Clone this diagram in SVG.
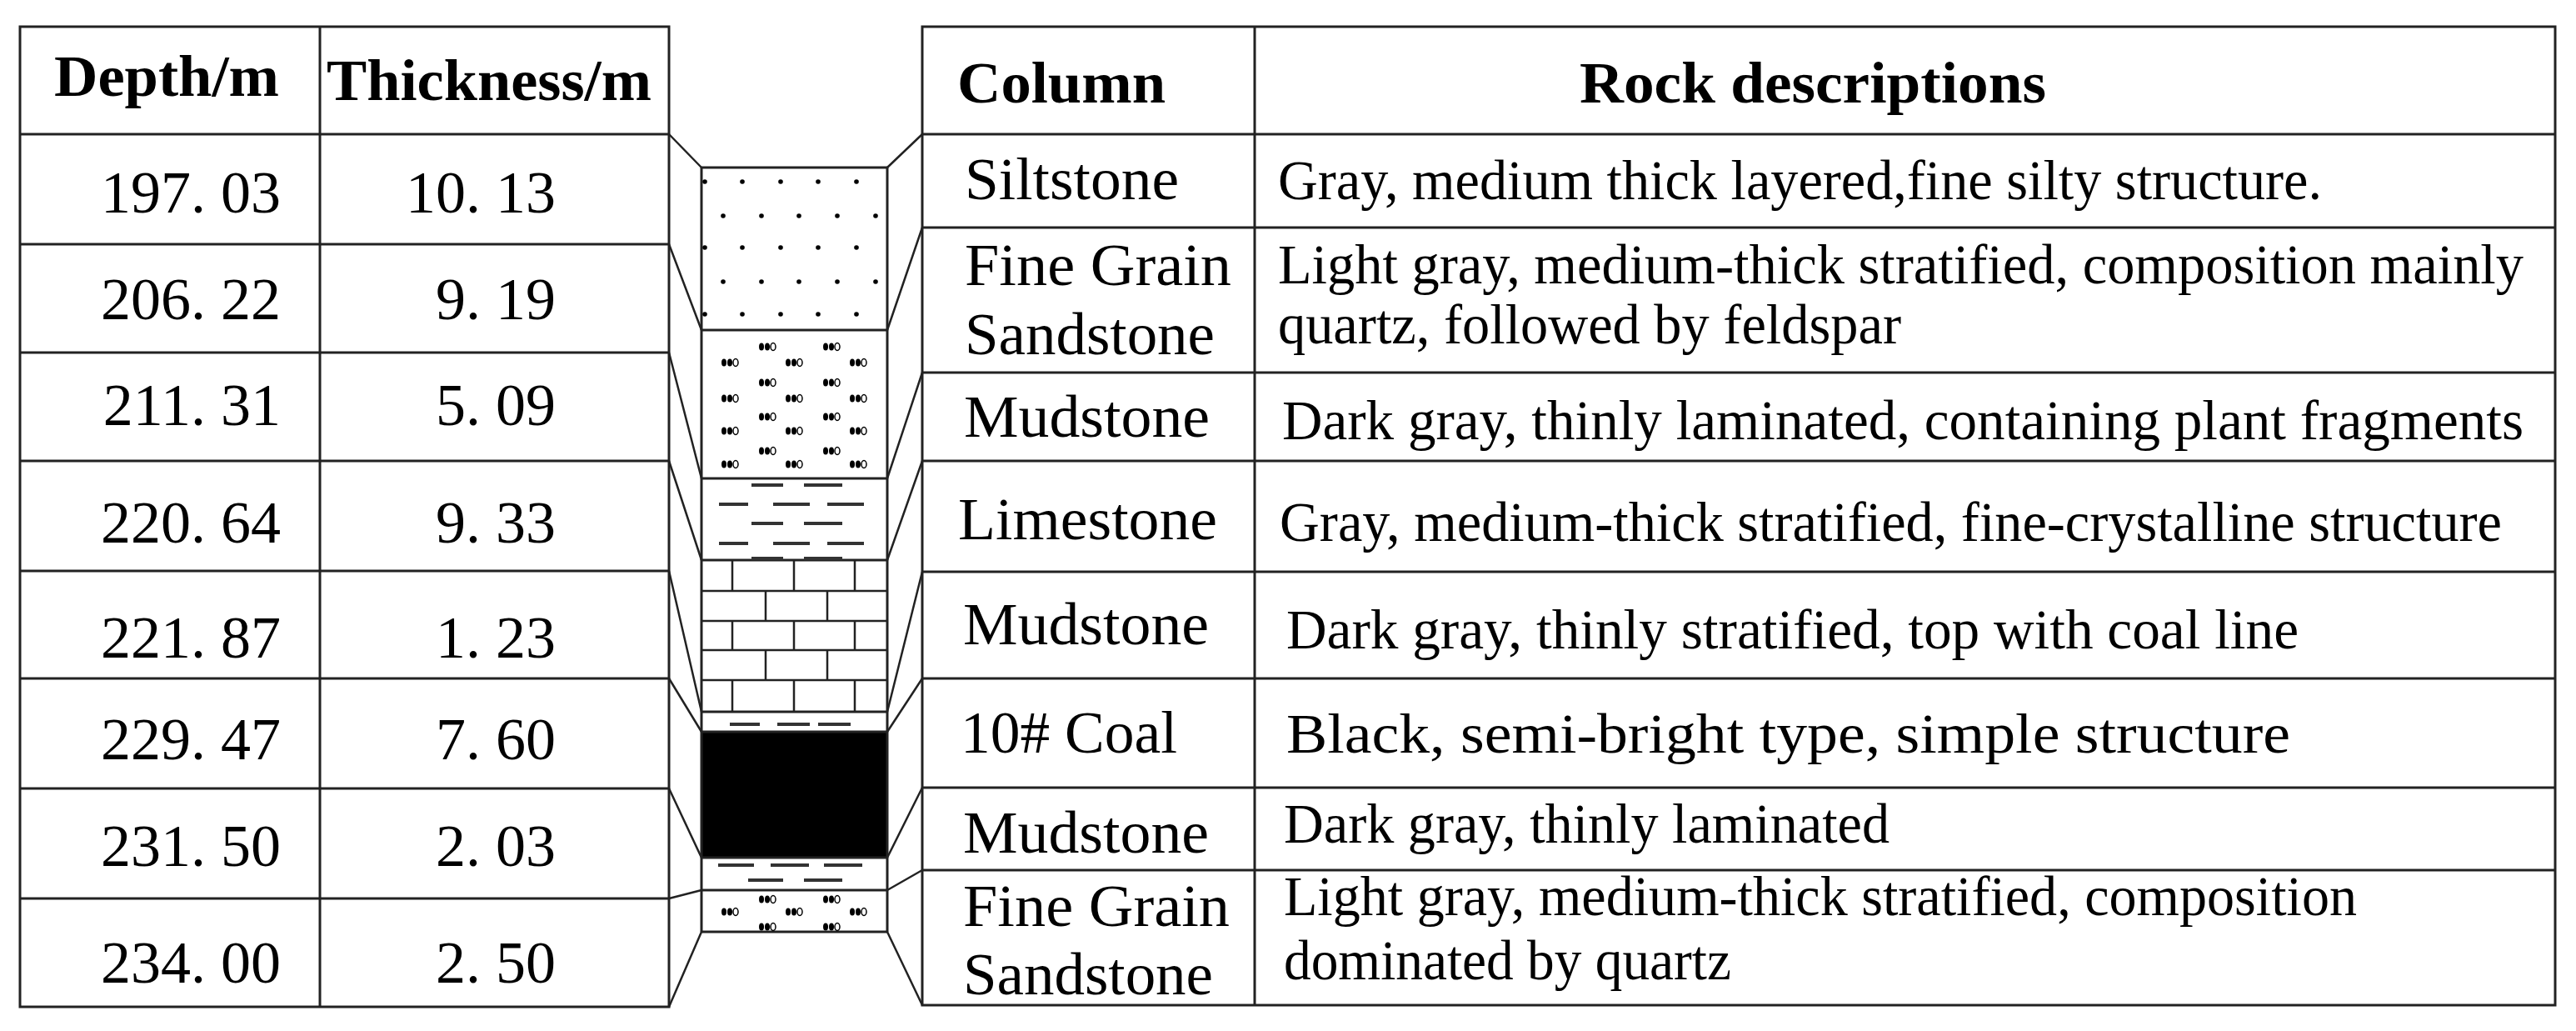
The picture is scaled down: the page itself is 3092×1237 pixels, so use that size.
<svg xmlns="http://www.w3.org/2000/svg" width="3092" height="1237" viewBox="0 0 3092 1237">
<style>
.ln{stroke:#222;stroke-width:3;fill:none}
.thin{stroke:#222;stroke-width:2.5;fill:none}
.hd{font-family:"Liberation Serif",serif;font-weight:bold;font-size:70px;fill:#000}
.num{font-family:"Liberation Serif",serif;font-size:72px;fill:#000;text-anchor:end}
.nm{font-family:"Liberation Serif",serif;font-size:72px;fill:#000}
.ds{font-family:"Liberation Serif",serif;font-size:68px;fill:#000;white-space:pre}
.dash{stroke:#333;stroke-width:4}
</style>
<defs>
<g id="grain"><ellipse cx="-7" cy="0" rx="3" ry="4.5" fill="#000"/><ellipse cx="0" cy="0" rx="3" ry="4.5" fill="#000"/><ellipse cx="7" cy="0" rx="3" ry="4.5" fill="#fff" stroke="#000" stroke-width="1.5"/></g>
<circle id="dot" r="2.8" fill="#000"/>
</defs>
<rect width="3092" height="1237" fill="#fff"/>

<g id="left-table">
<rect class="ln" x="24" y="32" width="779" height="1176"/>
<line class="ln" x1="384" y1="32" x2="384" y2="1208"/>
<path class="ln" d="M24 161H803M24 293H803M24 423H803M24 553H803M24 685H803M24 814H803M24 946H803M24 1078H803"/>
<text class="hd" x="65" y="115" textLength="270" lengthAdjust="spacingAndGlyphs">Depth/m</text>
<text class="hd" x="392" y="120" textLength="390" lengthAdjust="spacingAndGlyphs">Thickness/m</text>
<g class="num">
<text x="337" y="255">197. 03</text><text x="667" y="255">10. 13</text>
<text x="337" y="383">206. 22</text><text x="667" y="383">9. 19</text>
<text x="337" y="510">211. 31</text><text x="667" y="510">5. 09</text>
<text x="337" y="651">220. 64</text><text x="667" y="651">9. 33</text>
<text x="337" y="789">221. 87</text><text x="667" y="789">1. 23</text>
<text x="337" y="911">229. 47</text><text x="667" y="911">7. 60</text>
<text x="337" y="1039">231. 50</text><text x="667" y="1039">2. 03</text>
<text x="337" y="1179">234. 00</text><text x="667" y="1179">2. 50</text>
</g>
</g>

<g id="column">
<rect x="842" y="878" width="223" height="151" fill="#000"/>
<path class="ln" d="M842 201V1118M1065 201V1118M842 201H1065M842 396H1065M842 574H1065M842 672H1065M842 854H1065M842 878H1065M842 1029H1065M842 1068H1065M842 1118H1065"/>
<g id="siltstone-dots">
<use href="#dot" x="846" y="218"/><use href="#dot" x="891" y="218"/><use href="#dot" x="937" y="218"/><use href="#dot" x="982" y="218"/><use href="#dot" x="1028" y="218"/>
<use href="#dot" x="868" y="259"/><use href="#dot" x="914" y="259"/><use href="#dot" x="959" y="259"/><use href="#dot" x="1005" y="259"/><use href="#dot" x="1051" y="259"/>
<use href="#dot" x="846" y="297"/><use href="#dot" x="891" y="297"/><use href="#dot" x="937" y="297"/><use href="#dot" x="982" y="297"/><use href="#dot" x="1028" y="297"/>
<use href="#dot" x="868" y="338"/><use href="#dot" x="914" y="338"/><use href="#dot" x="959" y="338"/><use href="#dot" x="1005" y="338"/><use href="#dot" x="1051" y="338"/>
<use href="#dot" x="846" y="377"/><use href="#dot" x="891" y="377"/><use href="#dot" x="937" y="377"/><use href="#dot" x="982" y="377"/><use href="#dot" x="1028" y="377"/>
</g>
<g id="sandstone-grains">
<use href="#grain" x="921" y="416"/><use href="#grain" x="998" y="416"/>
<use href="#grain" x="876" y="435"/><use href="#grain" x="953" y="435"/><use href="#grain" x="1030" y="435"/>
<use href="#grain" x="921" y="459"/><use href="#grain" x="998" y="459"/>
<use href="#grain" x="876" y="478"/><use href="#grain" x="953" y="478"/><use href="#grain" x="1030" y="478"/>
<use href="#grain" x="921" y="500"/><use href="#grain" x="998" y="500"/>
<use href="#grain" x="876" y="517"/><use href="#grain" x="953" y="517"/><use href="#grain" x="1030" y="517"/>
<use href="#grain" x="921" y="541"/><use href="#grain" x="998" y="541"/>
<use href="#grain" x="876" y="557"/><use href="#grain" x="953" y="557"/><use href="#grain" x="1030" y="557"/>
<use href="#grain" x="921" y="1079"/><use href="#grain" x="998" y="1079"/>
<use href="#grain" x="876" y="1094"/><use href="#grain" x="953" y="1094"/><use href="#grain" x="1030" y="1094"/>
<use href="#grain" x="921" y="1112"/><use href="#grain" x="998" y="1112"/>
</g>
<path class="dash" d="M902 582H940M965 582H1011M863 605H898M928 605H972M993 605H1037M902 628H940M965 628H1011M863 652H898M928 652H972M993 652H1037M902 670H940M965 670H1011"/>
<path class="thin" d="M842 709H1065M842 745H1065M842 780H1065M842 816H1065M879 672V709M953 672V709M1026 672V709M919 709V745M993 709V745M879 745V780M953 745V780M1026 745V780M919 780V816M993 780V816M879 816V854M953 816V854M1026 816V854"/>
<path class="dash" d="M876 869H912M933 869H972M982 869H1021M862 1038H905M925 1038H971M989 1038H1035M898 1056H940M965 1056H1011"/>
</g>

<g id="connectors">
<path class="thin" d="M803 161L842 201M803 293L842 396M803 423L842 574M803 553L842 672M803 685L842 854M803 814L842 878M803 946L842 1029M803 1078L842 1068M803 1208L842 1118"/>
<path class="thin" d="M1065 201L1107 161M1065 396L1107 273M1065 574L1107 447M1065 672L1107 553M1065 854L1107 686M1065 878L1107 814M1065 1029L1107 945M1065 1068L1107 1044M1065 1118L1107 1206"/>
</g>

<g id="right-table">
<rect class="ln" x="1107" y="32" width="1960" height="1174"/>
<line class="ln" x1="1506" y1="32" x2="1506" y2="1206"/>
<path class="ln" d="M1107 161H3067M1107 273H3067M1107 447H3067M1107 553H3067M1107 686H3067M1107 814H3067M1107 945H3067M1107 1044H3067"/>
<text class="hd" x="1149" y="123" textLength="250" lengthAdjust="spacingAndGlyphs">Column</text>
<text class="hd" x="1896" y="123" textLength="560" lengthAdjust="spacingAndGlyphs">Rock descriptions</text>
<g class="nm">
<text x="1158" y="239" textLength="257" lengthAdjust="spacingAndGlyphs">Siltstone</text>
<text x="1158" y="342" textLength="320" lengthAdjust="spacingAndGlyphs">Fine Grain</text>
<text x="1158" y="425" textLength="300" lengthAdjust="spacingAndGlyphs">Sandstone</text>
<text x="1157" y="524" textLength="295" lengthAdjust="spacingAndGlyphs">Mudstone</text>
<text x="1150" y="647" textLength="311" lengthAdjust="spacingAndGlyphs">Limestone</text>
<text x="1156" y="773" textLength="295" lengthAdjust="spacingAndGlyphs">Mudstone</text>
<text x="1153" y="903" textLength="260" lengthAdjust="spacingAndGlyphs">10# Coal</text>
<text x="1156" y="1023" textLength="295" lengthAdjust="spacingAndGlyphs">Mudstone</text>
<text x="1156" y="1111" textLength="320" lengthAdjust="spacingAndGlyphs">Fine Grain</text>
<text x="1156" y="1193" textLength="300" lengthAdjust="spacingAndGlyphs">Sandstone</text>
</g>
<g class="ds">
<text x="1534" y="239" textLength="1253" lengthAdjust="spacingAndGlyphs">Gray, medium thick layered,fine silty structure.</text>
<text x="1534" y="340" textLength="1495" lengthAdjust="spacingAndGlyphs">Light gray, medium-thick stratified, composition mainly</text>
<text x="1534" y="412" textLength="748" lengthAdjust="spacingAndGlyphs">quartz, followed by feldspar</text>
<text x="1539" y="527" textLength="1490" lengthAdjust="spacingAndGlyphs">Dark gray, thinly laminated, containing  plant fragments</text>
<text x="1536" y="649" textLength="1467" lengthAdjust="spacingAndGlyphs">Gray, medium-thick stratified, fine-crystalline structure</text>
<text x="1544" y="778" textLength="1215" lengthAdjust="spacingAndGlyphs">Dark gray, thinly stratified,  top with coal line</text>
<text x="1544" y="903" textLength="1205" lengthAdjust="spacingAndGlyphs">Black, semi-bright type, simple structure</text>
<text x="1541" y="1011" textLength="727" lengthAdjust="spacingAndGlyphs">Dark gray, thinly laminated</text>
<text x="1541" y="1098" textLength="1288" lengthAdjust="spacingAndGlyphs">Light gray, medium-thick stratified, composition</text>
<text x="1541" y="1175" textLength="537" lengthAdjust="spacingAndGlyphs">dominated by quartz</text>
</g>
</g>
</svg>
